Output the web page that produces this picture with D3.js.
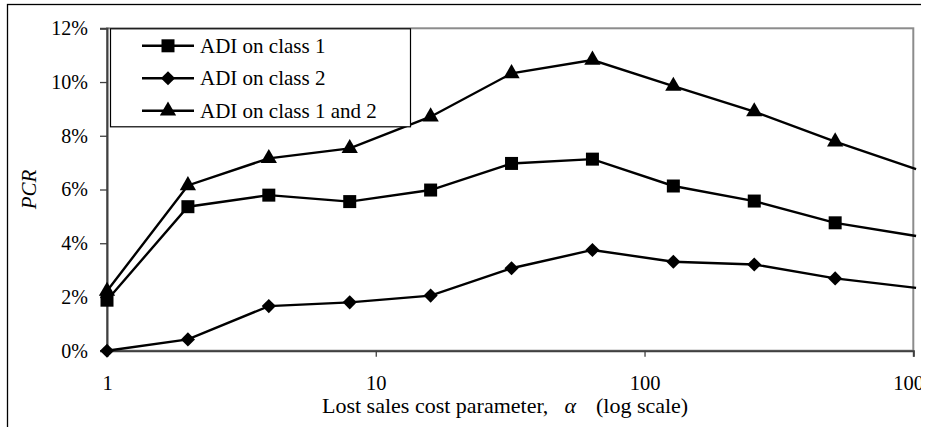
<!DOCTYPE html>
<html>
<head>
<meta charset="utf-8">
<script src="https://cdn.jsdelivr.net/npm/d3@7"></script>
<style>
  body { margin: 0; background: #fff; }
</style>
</head>
<body>
<div id="container"></div>
<script>
//chart values (alpha on log scale, PCR as fraction)
var alphas = [1, 2, 4, 8, 16, 32, 64, 128, 256, 512, 1024];
var class1 = [0.0188, 0.0536, 0.0579, 0.0555, 0.0598, 0.0697, 0.0713, 0.0613, 0.0557, 0.0476, 0.0427];
var class2 = [0.0000, 0.0042, 0.0166, 0.0180, 0.0205, 0.0307, 0.0375, 0.0331, 0.0321, 0.0269, 0.0234];
var class12 = [0.0222, 0.0615, 0.0716, 0.0753, 0.0871, 0.1032, 0.1082, 0.0985, 0.0890, 0.0778, 0.0676];
var seriesNames = ["ADI on class 1", "ADI on class 2", "ADI on class 1 and 2"];
var xTicks = [1, 10, 100, 1000];
var yTicks = [0, 0.02, 0.04, 0.06, 0.08, 0.10, 0.12];

var serif = "Liberation Serif, DejaVu Serif, serif";

//chart dimensions + margins
var total_width = 930;
var total_height = 427;
var margin = {top: 28.3, right: 16.7, bottom: 76.3, left: 107};
var width = total_width - margin.left - margin.right;
var height = total_height - margin.top - margin.bottom;

var svg = d3.select("#container")
    .append("svg")
    .attr("width", total_width)
    .attr("height", total_height)
    .attr("font-family", serif);

//the picture is cut off on the right side
svg.append("clipPath")
    .attr("id", "cut")
    .append("rect")
    .attr("x", 0).attr("y", 0)
    .attr("width", 921).attr("height", total_height);

var root = svg.append("g").attr("clip-path", "url(#cut)");

//outer chart border
root.append("rect")
    .attr("x", 7.5).attr("y", 4.5)
    .attr("width", 1000).attr("height", 1000)
    .attr("fill", "none")
    .attr("stroke", "#000")
    .attr("stroke-width", 1.3);

var g = root.append("g")
    .attr("transform", "translate(" + margin.left + "," + margin.top + ")");

//scales
var x = d3.scaleLog().domain([1, 1000]).range([0, width]);
var y = d3.scaleLinear().domain([0, 0.12]).range([height, 0]);

//plot area border (gray)
g.append("rect")
    .attr("x", 0).attr("y", 0)
    .attr("width", width).attr("height", height)
    .attr("fill", "none")
    .attr("stroke", "#8c8c8c")
    .attr("stroke-width", 2);

//y axis
var yAxis = g.append("g")
    .call(d3.axisLeft(y).tickValues(yTicks).tickSize(7).tickPadding(12).tickFormat(d3.format(".0%")));
yAxis.attr("font-family", serif).attr("font-size", 20);
yAxis.select(".domain").attr("stroke", "#404040").attr("stroke-width", 2);
yAxis.selectAll(".tick line").attr("stroke", "#404040").attr("stroke-width", 1.3);
yAxis.selectAll("text").attr("fill", "#000");

//x axis
var xAxis = g.append("g")
    .attr("transform", "translate(0," + height + ")")
    .call(d3.axisBottom(x).tickValues(xTicks).tickSize(6).tickPadding(19).tickFormat(d3.format("d")));
xAxis.attr("font-family", serif).attr("font-size", 20.5);
xAxis.select(".domain").attr("stroke", "#404040").attr("stroke-width", 2);
xAxis.selectAll(".tick line").attr("stroke", "#404040").attr("stroke-width", 1.3);
xAxis.selectAll("text").attr("fill", "#000");

//series + marker shapes
var series = [
    {name: seriesNames[0], values: class1, symbol: d3.symbolSquare, size: 169, rotate: 0},
    {name: seriesNames[1], values: class2, symbol: d3.symbolSquare, size: 100, rotate: 45},
    {name: seriesNames[2], values: class12, symbol: d3.symbolTriangle, size: 115, rotate: 0}
];

var line = d3.line()
    .x(function(d) { return x(d.a); })
    .y(function(d) { return y(d.v); });

series.forEach(function(s) {
    var pts = alphas.map(function(a, i) { return {a: a, v: s.values[i]}; });

    g.append("path")
        .datum(pts)
        .attr("fill", "none")
        .attr("stroke", "#000")
        .attr("stroke-width", 2.4)
        .attr("d", line);

    g.selectAll(null)
        .data(pts.filter(function(d) { return d.a <= 1000; }))
        .enter()
        .append("path")
        .attr("d", d3.symbol().type(s.symbol).size(s.size))
        .attr("transform", function(d) { return "translate(" + x(d.a) + "," + y(d.v) + ") rotate(" + s.rotate + ")"; })
        .attr("fill", "#000");
});

//legend box
var legend = g.append("g").attr("transform", "translate(3,0)");
legend.append("rect")
    .attr("x", 0.5).attr("y", 0.5)
    .attr("width", 300).attr("height", 98)
    .attr("fill", "#fff")
    .attr("stroke", "#000")
    .attr("stroke-width", 1.2);

series.forEach(function(s, i) {
    var row = legend.append("g").attr("transform", "translate(0," + (17.5 + i * 32.5) + ")");
    row.append("line")
        .attr("x1", 32).attr("x2", 84)
        .attr("y1", 0).attr("y2", 0)
        .attr("stroke", "#000")
        .attr("stroke-width", 2.4);
    row.append("path")
        .attr("d", d3.symbol().type(s.symbol).size(s.size))
        .attr("transform", "translate(58,0) rotate(" + s.rotate + ")")
        .attr("fill", "#000");
    row.append("text")
        .attr("x", 90)
        .attr("y", 7)
        .attr("font-size", 21)
        .text(s.name);
});

//x axis title (alpha set apart like an equation object)
var xt = svg.append("text")
    .attr("x", 322)
    .attr("y", 413)
    .attr("font-size", 22);
xt.append("tspan").text("Lost sales cost parameter,");
xt.append("tspan").attr("dx", 16).attr("font-style", "italic").text("\u03b1");
xt.append("tspan").attr("dx", 20).text("(log scale)");

//y axis title
svg.append("text")
    .attr("transform", "translate(36," + (margin.top + height / 2) + ") rotate(-90)")
    .attr("text-anchor", "middle")
    .attr("font-size", 21)
    .attr("font-style", "italic")
    .text("PCR");
</script>
</body>
</html>
